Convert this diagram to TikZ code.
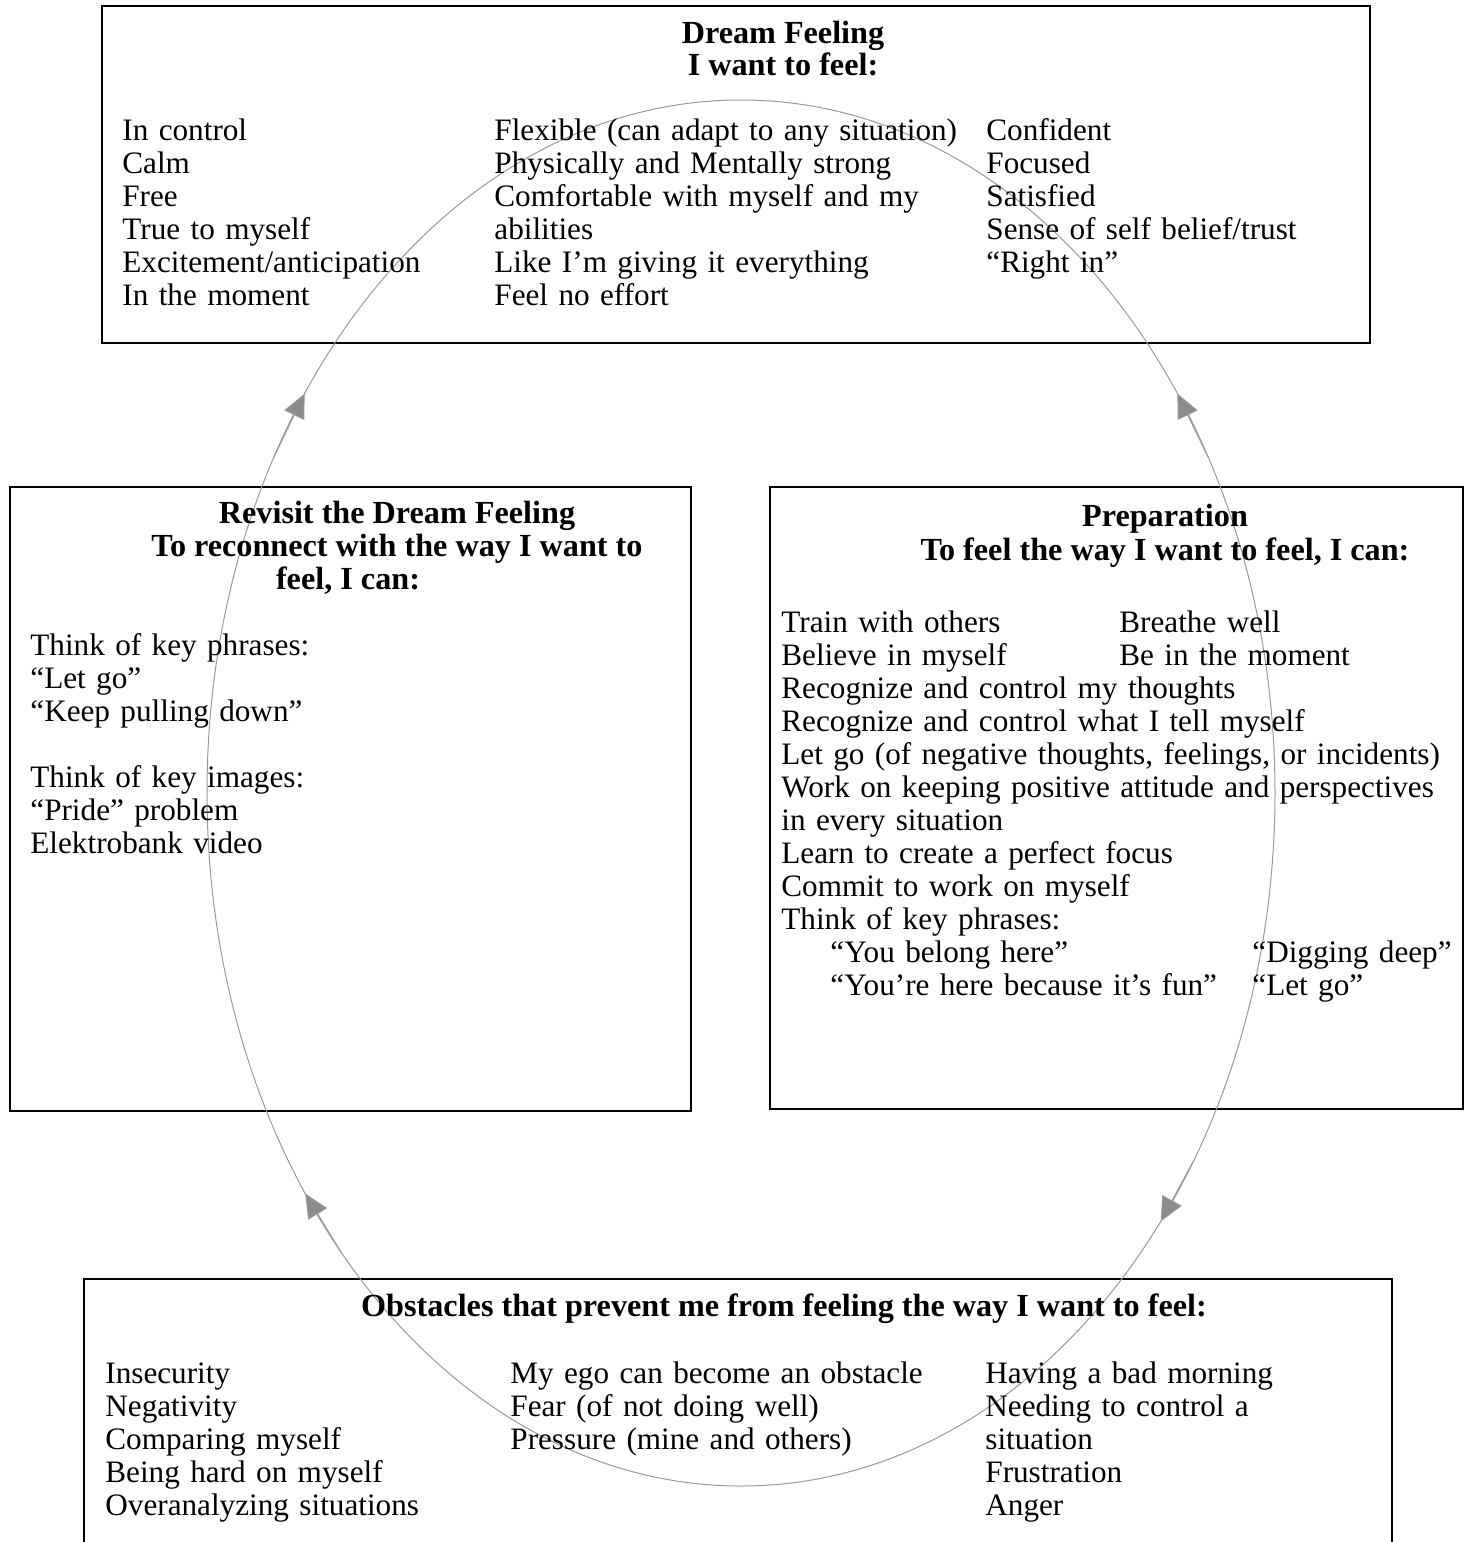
\documentclass[tikz,border=0pt]{standalone}
\usepackage{fontspec}
\setmainfont{Liberation Serif}
\usetikzlibrary{arrows.meta}
\newcommand{\bodyfnt}{\fontsize{15.6}{16.5}\selectfont}
\newcommand{\ttlfnt}{\fontsize{16.1}{16.5}\selectfont\bfseries}
\begin{document}
\begin{tikzpicture}[x=0.5pt,y=-0.5pt,
  boxframe/.style={draw=black, line width=1pt, minimum width=#1},
  col/.style={anchor=base west, inner sep=0pt, align=left, text width=360pt, font=\bodyfnt},
  ttl/.style={anchor=base, inner sep=0pt, font=\ttlfnt},
  circ/.style={draw=black!40, line width=0.5pt},
  cyc/.style={circ, -{Triangle[length=12pt,width=11pt,fill=black!45]}}
]
\useasboundingbox (0,0) rectangle (1469,1542);

% boxes
\node[boxframe=634pt, minimum height=168.5pt, inner sep=0pt] (topbox) at (736,174.5) {};
\node[boxframe=340.5pt, minimum height=312pt, inner sep=0pt] (leftbox) at (350.5,799) {};
\node[boxframe=346.5pt, minimum height=311pt, inner sep=0pt] (rightbox) at (1116.5,798) {};
\coordinate (bl) at (84,1542);
\coordinate (br) at (1392,1542);
\draw[line width=1pt] (bl) |- (1392,1279) coordinate (bt) -- (br);

% cycle ellipse
\draw[circ] (741,793) ellipse [x radius=267pt, y radius=346.5pt];
\draw[cyc] ({741+534*cos(151)},{793-693*sin(151)}) coordinate (a1s) -- ({741+534*cos(144.8)},{793-693*sin(144.8)}) coordinate (a1e);
\draw[cyc] ({741+534*cos(29)},{793-693*sin(29)}) coordinate (a2s) -- ({741+534*cos(35.2)},{793-693*sin(35.2)}) coordinate (a2e);
\draw[cyc] ({741+534*cos(221.5)},{793-693*sin(221.5)}) coordinate (a3s) -- ({741+534*cos(215.3)},{793-693*sin(215.3)}) coordinate (a3e);
\draw[cyc] ({741+534*cos(328)},{793-693*sin(328)}) coordinate (a4s) -- ({741+534*cos(321.8)},{793-693*sin(321.8)}) coordinate (a4e);

% top box text
\node[ttl] (t1) at (783,43) {Dream Feeling};
\node[ttl] (t2) at (783,75) {I want to feel:};
\node[col] (tc1) at (122,140) {In control\\Calm\\Free\\True to myself\\Excitement/anticipation\\In the moment};
\node[col] (tc2) at (494,140) {Flexible (can adapt to any situation)\\Physically and Mentally strong\\Comfortable with myself and my\\abilities\\Like I’m giving it everything\\Feel no effort};
\node[col] (tc3) at (986,140) {Confident\\Focused\\Satisfied\\Sense of self belief/trust\\“Right in”};

% left box text
\node[ttl] (l1) at (397,523) {Revisit the Dream Feeling};
\node[ttl] (l2) at (397,556) {To reconnect with the way I want to};
\node[ttl] (l3) at (348,589) {feel, I can:};
\node[col] (lc) at (30,655) {Think of key phrases:\\“Let go”\\“Keep pulling down”\\[16.5pt]Think of key images:\\“Pride” problem\\Elektrobank video};

% right box text
\node[ttl] (r1) at (1165,526) {Preparation};
\node[ttl] (r2) at (1165,560) {To feel the way I want to feel, I can:};
\node[col] (rc1) at (781,632) {Train with others\\Believe in myself\\Recognize and control my thoughts\\Recognize and control what I tell myself\\Let go (of negative thoughts, feelings, or incidents)\\Work on keeping positive attitude and perspectives\\in every situation\\Learn to create a perfect focus\\Commit to work on myself\\Think of key phrases:};
\node[col] (rc2) at (1119,632) {Breathe well\\Be in the moment};
\node[col] (rc3) at (830,962) {“You belong here”\\“You’re here because it’s fun”};
\node[col] (rc4) at (1252,962) {“Digging deep”\\“Let go”};

% bottom box text
\node[ttl] (b1) at (784,1316) {Obstacles that prevent me from feeling the way I want to feel:};
\node[col] (bc1) at (105,1383) {Insecurity\\Negativity\\Comparing myself\\Being hard on myself\\Overanalyzing situations};
\node[col] (bc2) at (510,1383) {My ego can become an obstacle\\Fear (of not doing well)\\Pressure (mine and others)};
\node[col] (bc3) at (985,1383) {Having a bad morning\\Needing to control a\\situation\\Frustration\\Anger};
\end{tikzpicture}
\end{document}
